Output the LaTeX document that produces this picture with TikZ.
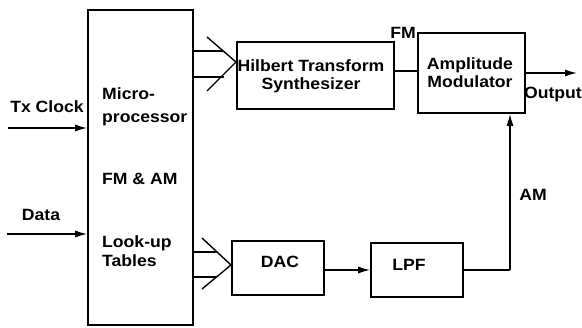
\documentclass[tikz,border=0pt]{standalone}
\usepackage{fontspec}
\setmainfont[FakeStretch=1.08]{Liberation Sans}
\usetikzlibrary{arrows.meta}
\begin{document}
\begin{tikzpicture}[x=1pt,y=-1pt,
  blk/.style={draw,line width=1.6pt,inner sep=0pt},
  txt/.style={font=\fontsize{16.3}{19}\selectfont\bfseries,inner sep=0pt},
  wire/.style={line width=1.4pt},
  arr/.style={line width=1.4pt,-{Latex[length=12pt,width=7pt]}}]
\useasboundingbox (0,0) rectangle (582,328);
% blocks
\node[blk,minimum width=105pt,minimum height=315pt] (mp) at (140.5,167.5) {};
\node[blk,minimum width=157pt,minimum height=67pt] (hil) at (315.5,75.5) {};
\node[blk,minimum width=107pt,minimum height=80pt] (amp) at (471.5,73) {};
\node[blk,minimum width=92pt,minimum height=54pt] (dac) at (278,268) {};
\node[blk,minimum width=92pt,minimum height=54pt] (lpf) at (417,270) {};
% block texts
\node[txt,anchor=base west] (t1) at (102,100) {Micro-};
\node[txt,anchor=base west] (t2) at (102,123) {processor};
\node[txt,anchor=base west] (t3) at (102,185) {FM \& AM};
\node[txt,anchor=base west] (t4) at (102,248) {Look-up};
\node[txt,anchor=base west] (t5) at (102,267) {Tables};
\node[txt,anchor=base] (h1) at (311,72) {Hilbert Transform};
\node[txt,anchor=base] (h2) at (311,90) {Synthesizer};
\node[txt,anchor=base] (a1) at (470,70) {Amplitude};
\node[txt,anchor=base] (a2) at (470,88) {Modulator};
\node[txt,anchor=base] (d1) at (280,268) {DAC};
\node[txt,anchor=base] (l1) at (409,271) {LPF};
% labels
\node[txt,anchor=base] (ltx) at (47,113) {Tx Clock};
\node[txt,anchor=base] (ldata) at (41,221) {Data};
\node[txt,anchor=base] (lfm) at (403,39) {FM};
\node[txt,anchor=base] (lam) at (533,201) {AM};
\node[txt,anchor=base] (lout) at (553,99) {Output};
% coordinates
\coordinate (txs) at (8,128);
\coordinate (das) at (7,234);
\coordinate (ua) at (207,37);
\coordinate (ut) at (236,62);
\coordinate (ub) at (207,91);
\coordinate (u1) at (222.5,51);
\coordinate (u2) at (224,77);
\coordinate (la) at (202,238);
\coordinate (lt) at (231,265);
\coordinate (lb) at (202,289);
\coordinate (l1c) at (217,252);
\coordinate (l2c) at (216.5,277);
\coordinate (fmy) at (0,71);
\coordinate (outy) at (0,73);
\coordinate (oute) at (577,73);
\coordinate (dly) at (0,270);
\coordinate (corner) at (510,270);
% connectors
\draw[arr] (txs) -- (txs -| mp.west);
\draw[arr] (das) -- (das -| mp.west);
\draw[wire] (ua) -- (ut) -- (ub);
\draw[wire] (u1 -| mp.east) -- (u1);
\draw[wire] (u2 -| mp.east) -- (u2);
\draw[wire] (la) -- (lt) -- (lb);
\draw[wire] (l1c -| mp.east) -- (l1c);
\draw[wire] (l2c -| mp.east) -- (l2c);
\draw[wire] (fmy -| hil.east) -- (fmy -| amp.west);
\draw[arr] (outy -| amp.east) -- (oute);
\draw[arr] (dly -| dac.east) -- (dly -| lpf.west);
\draw[wire] (dly -| lpf.east) -- (corner);
\draw[arr] (corner) -- (corner |- amp.south);
\end{tikzpicture}
\end{document}
